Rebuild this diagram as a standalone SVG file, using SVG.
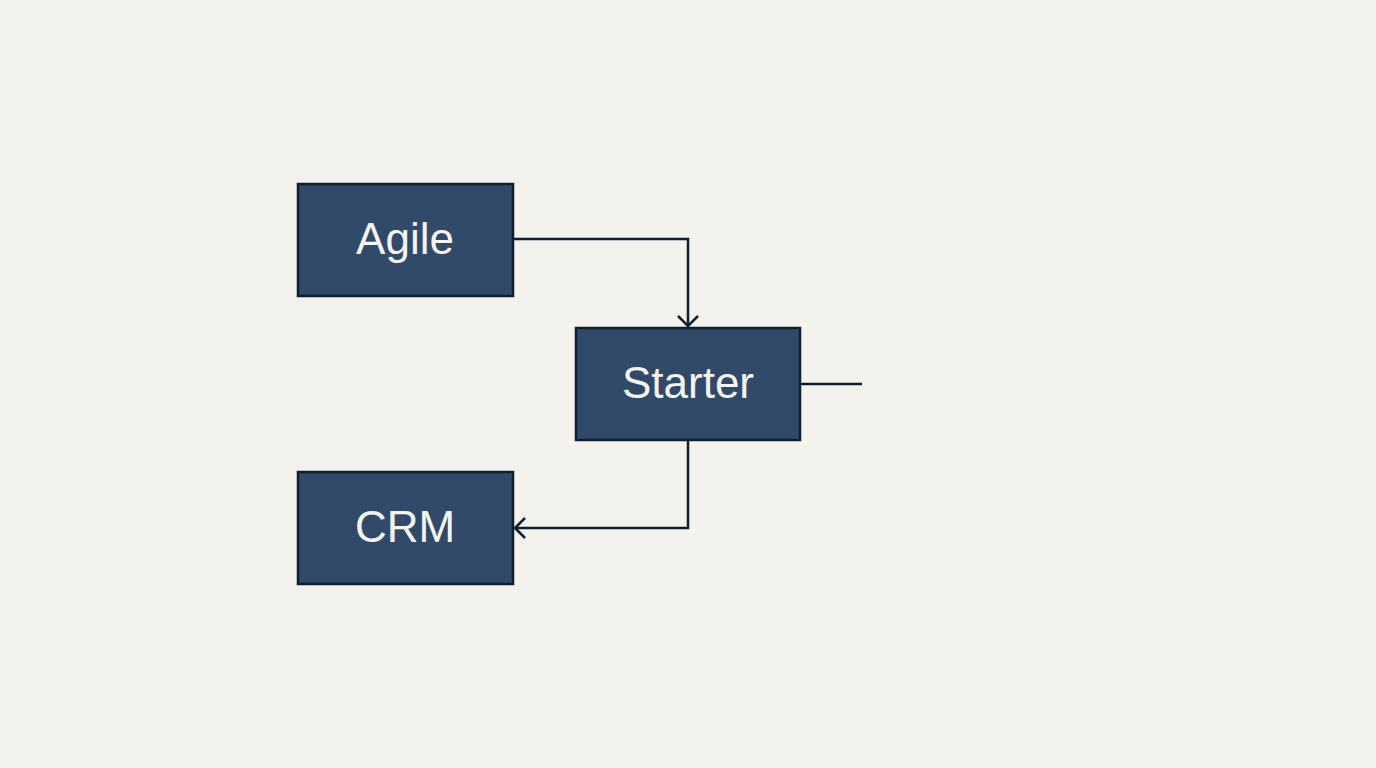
<svg xmlns="http://www.w3.org/2000/svg" width="1376" height="768" viewBox="0 0 1376 768">
<style>
.n{fill:#324a6a;stroke:#0f1f30;stroke-width:2.5}
.t{fill:#f4f4f0;font-family:"Liberation Sans",Arial,sans-serif;font-size:44px;text-anchor:middle}
.c{fill:none;stroke:#0f1f30;stroke-width:2.5}
</style>
<defs><marker id="a" markerWidth="22" markerHeight="22" refX="17" refY="11" orient="auto" markerUnits="userSpaceOnUse"><path d="M7,1 L17,11 L7,21" fill="none" stroke="#0f1f30" stroke-width="2.5"/></marker></defs>
<rect width="1376" height="768" fill="#f3f2ed"/>
<g id="connectors">
<path class="c" d="M513,239 H688 V326" marker-end="url(#a)"/>
<path class="c" d="M688,440 V528 H515" marker-end="url(#a)"/>
<path class="c" d="M800,384 H862"/>
</g>
<g id="agile"><rect class="n" x="298" y="184" width="215" height="112"/><text class="t" x="405" y="254">Agile</text></g>
<g id="starter"><rect class="n" x="576" y="328" width="224" height="112"/><text class="t" x="688" y="398">Starter</text></g>
<g id="crm"><rect class="n" x="298" y="472" width="215" height="112"/><text class="t" x="405" y="542">CRM</text></g>
</svg>
